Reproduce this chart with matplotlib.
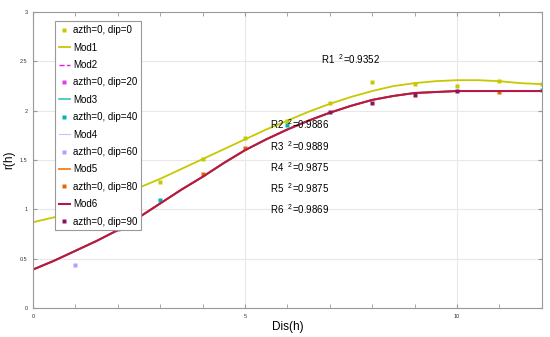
import matplotlib
matplotlib.use("Agg")
import matplotlib.pyplot as plt
from matplotlib.ticker import MultipleLocator

plt.rcParams['font.family'] = ['Liberation Sans', 'DejaVu Sans']
plt.rcParams['mathtext.fontset'] = 'custom'
plt.rcParams['mathtext.rm'] = 'Liberation Sans'

# lags (curves read every 0.5, experimental points every 1)
h_mod = [0, 0.5, 1, 1.5, 2, 2.5, 3, 3.5, 4, 4.5, 5, 5.5, 6, 6.5, 7, 7.5, 8, 8.5,
         9, 9.5, 10, 10.5, 11, 11.5, 12]
mod1 = [0.87, 0.92, 0.98, 1.05, 1.13, 1.22, 1.31, 1.41, 1.51, 1.61, 1.71, 1.81,
        1.90, 1.99, 2.07, 2.14, 2.20, 2.25, 2.28, 2.30, 2.31, 2.31, 2.30, 2.28, 2.27]
mod_red = [0.39, 0.48, 0.58, 0.68, 0.79, 0.92, 1.06, 1.20, 1.33, 1.47, 1.60, 1.71,
           1.81, 1.90, 1.98, 2.05, 2.11, 2.15, 2.18, 2.19, 2.20, 2.20, 2.20, 2.20, 2.20]

# experimental variogram points
h_dip0 = [1, 2, 3, 4, 5, 6, 7, 8, 9, 10, 11, 12]
v_dip0 = [0.98, 1.14, 1.28, 1.51, 1.72, 1.90, 2.08, 2.29, 2.27, 2.25, 2.30, 2.27]
h_dip20 = [2]
v_dip20 = [0.80]
h_dip40 = [3, 6, 12]
v_dip40 = [1.10, 1.86, 2.21]
h_dip60 = [1]
v_dip60 = [0.44]
h_dip80 = [4, 5, 11]
v_dip80 = [1.36, 1.62, 2.19]
h_dip90 = [7, 8, 9, 10]
v_dip90 = [1.99, 2.08, 2.16, 2.20]

r2_labels = ['R1', 'R2', 'R3', 'R4', 'R5', 'R6']
r2_values = ['0.9352', '0.9886', '0.9889', '0.9875', '0.9875', '0.9869']
r2_x = [6.8, 5.6, 5.6, 5.6, 5.6, 5.6]
r2_y = [2.52, 1.86, 1.64, 1.43, 1.22, 1.00]

yticks = [0, 0.5, 1, 1.5, 2, 2.5, 3]
yticklabels = ['0', '0.5', '1', '1.5', '2', '2.5', '3']
xticks = [0, 5, 10]
xticklabels = ['0', '5', '10']

fig = plt.figure(figsize=(5.5, 3.37), dpi=100, facecolor='white')
ax = fig.add_axes([0.06, 0.086, 0.925, 0.878])

ms = 2.4
ax.plot(h_dip0, v_dip0, 's', color='#c8c800', ms=ms, mec='none', label='azth=0, dip=0')
ax.plot(h_mod, mod1, '-', color='#c8c800', lw=1.3, label='Mod1')
ax.plot(h_mod, mod_red, '--', color='#e020e0', lw=1.0, label='Mod2')
ax.plot(h_dip20, v_dip20, 's', color='#e040e0', ms=ms, mec='none', label='azth=0, dip=20')
ax.plot(h_mod, mod_red, '-', color='#40c8c8', lw=1.3, label='Mod3')
ax.plot(h_dip40, v_dip40, 's', color='#00b4b4', ms=ms, mec='none', label='azth=0, dip=40')
ax.plot(h_mod, mod_red, '-', color='#d8b8f8', lw=0.8, label='Mod4')
ax.plot(h_dip60, v_dip60, 's', color='#b0a0ff', ms=ms, mec='none', label='azth=0, dip=60')
ax.plot(h_mod, mod_red, '-', color='#f08020', lw=1.3, label='Mod5')
ax.plot(h_dip80, v_dip80, 's', color='#e06a00', ms=ms, mec='none', label='azth=0, dip=80')
ax.plot(h_mod, mod_red, '-', color='#b81848', lw=1.5, label='Mod6')
ax.plot(h_dip90, v_dip90, 's', color='#8a1460', ms=ms, mec='none', label='azth=0, dip=90')

for lab, val, x, y in zip(r2_labels, r2_values, r2_x, r2_y):
    ax.text(x, y, lab + r'  $^{2}$=' + val, fontsize=7, va='center', ha='left')

ax.set_xlim(0, 12)
ax.set_ylim(0, 3)
ax.set_xticks(xticks)
ax.set_xticklabels(xticklabels)
ax.xaxis.set_minor_locator(MultipleLocator(1))
ax.set_yticks(yticks)
ax.set_yticklabels(yticklabels)
ax.grid(True, which='major', color='#e8e8e8', lw=0.8)
ax.set_axisbelow(True)
ax.tick_params(which='both', direction='in', top=True, right=True, length=3,
               color='#999999', labelsize=4, labelcolor='#333333', pad=4)
for s in ax.spines.values():
    s.set_color('#999999')
    s.set_linewidth(0.8)

ax.set_xlabel('Dis(h)', fontsize=8.5, labelpad=2)
ax.set_ylabel('r(h)', fontsize=8.5, labelpad=3)

leg = ax.legend(loc='upper left', bbox_to_anchor=(0.033, 0.985), fontsize=7,
                handlelength=1.2, handletextpad=0.3, labelspacing=0.76,
                borderpad=0.4, fancybox=False, framealpha=1, markerscale=1.0)
leg.get_frame().set_edgecolor('#999999')
leg.get_frame().set_linewidth(0.8)

plt.savefig('out.png', dpi=100, facecolor='white')
